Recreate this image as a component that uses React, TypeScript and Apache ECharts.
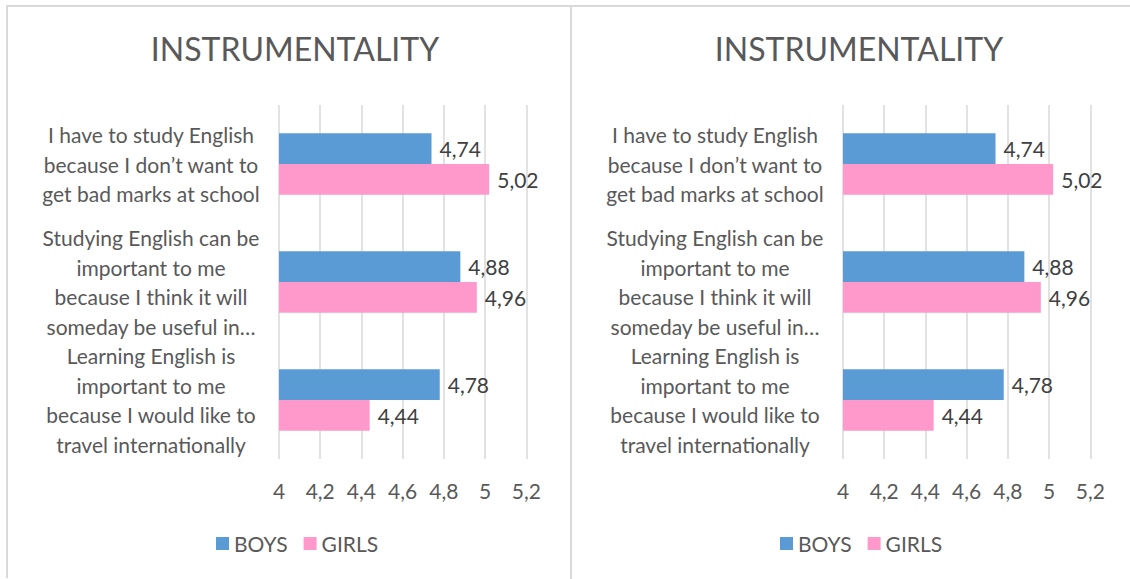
import React, { useEffect, useRef } from "react";
import * as echarts from "echarts";

const titleText = "INSTRUMENTALITY";
const categories = [
  "I have to study English\nbecause I don’t want to\nget bad marks at school",
  "Studying English can be\nimportant to me\nbecause I think it will\nsomeday be useful in…",
  "Learning English is\nimportant to me\nbecause I would like to\ntravel internationally",
];
const seriesNames = ["BOYS", "GIRLS"];
const boys = [4.74, 4.88, 4.78];
const girls = [5.02, 4.96, 4.44];
const axisMin = 4;
const axisMax = 5.2;
const axisStep = 0.2;

const FONT = "Lato, 'Open Sans', sans-serif";
const TEXT = "#595959";
const GRID = "#D9D9D9";
const BLUE = "#5B9BD5";
const PINK = "#FF99CC";

const comma = (v: number) => String(+v.toFixed(2)).replace(".", ",");

export default function App() {
  const ref = useRef<HTMLDivElement>(null);
  useEffect(() => {
    if (!ref.current) return;
    const chart = echarts.init(ref.current, undefined, { renderer: "svg" });
    const offsets = [0, 564];
    const titles = offsets.map((o) => ({
      text: titleText,
      left: 290 + o,
      top: 27,
      textAlign: "center",
      textStyle: { fontFamily: FONT, fontSize: 32, fontWeight: "normal", color: TEXT },
    }));
    const grids = offsets.map((o) => ({ left: 279 + o, top: 105, width: 247.3, height: 354 }));
    const xAxes = offsets.map((_, i) => ({
      type: "value",
      gridIndex: i,
      min: axisMin,
      max: axisMax,
      interval: axisStep,
      axisLine: { show: false },
      axisTick: { show: false },
      splitLine: { show: true, lineStyle: { color: GRID, width: 1.5 } },
      axisLabel: {
        formatter: (v: number) => comma(v),
        color: TEXT,
        fontFamily: FONT,
        fontSize: 21,
        margin: 21,
      },
    }));
    const yAxes = offsets.map((_, i) => ({
      type: "category",
      gridIndex: i,
      inverse: true,
      data: categories,
      axisLine: { show: false },
      axisTick: { show: false },
      axisLabel: {
        align: "center",
        margin: 128,
        color: TEXT,
        fontFamily: FONT,
        fontSize: 21,
        lineHeight: 29.5,
      },
    }));
    const series: any[] = [];
    offsets.forEach((_, i) => {
      [boys, girls].forEach((vals, k) => {
        series.push({
          type: "bar",
          name: seriesNames[k],
          xAxisIndex: i,
          yAxisIndex: i,
          data: vals,
          barGap: "0%",
          barCategoryGap: "48%",
          itemStyle: { color: k === 0 ? BLUE : PINK },
          label: {
            show: true,
            position: "right",
            distance: 8,
            formatter: (p: any) => comma(p.value),
            color: "#404040",
            fontFamily: FONT,
            fontSize: 21,
          },
        });
      });
    });
    const legends = offsets.map((o) => ({
      left: 211 + o,
      top: 528,
      icon: "rect",
      itemWidth: 13,
      itemHeight: 13,
      itemGap: 16,
      data: seriesNames,
      textStyle: { color: TEXT, fontFamily: FONT, fontSize: 21 },
    }));
    chart.setOption({
      animation: false,
      backgroundColor: "#FFFFFF",
      title: titles,
      grid: grids,
      xAxis: xAxes,
      yAxis: yAxes,
      legend: legends,
      series,
      graphic: [
        { type: "line", shape: { x1: 6, y1: 6, x2: 1130, y2: 6 }, style: { stroke: GRID, lineWidth: 2 } },
        { type: "line", shape: { x1: 7, y1: 6, x2: 7, y2: 578 }, style: { stroke: GRID, lineWidth: 2 } },
        { type: "line", shape: { x1: 571, y1: 6, x2: 571, y2: 579 }, style: { stroke: GRID, lineWidth: 2 } },
      ],
    });
    return () => chart.dispose();
  }, []);
  return (
    <div
      ref={ref}
      style={{ position: "absolute", left: 0, top: 0, width: 1130, height: 579 }}
    />
  );
}
